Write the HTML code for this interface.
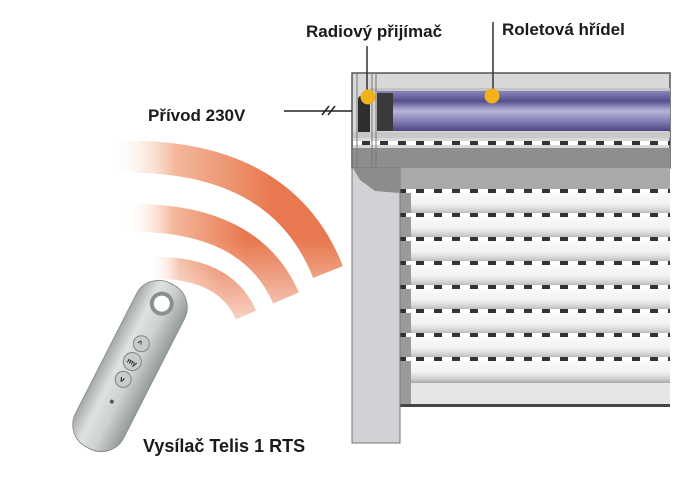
<!DOCTYPE html>
<html><head><meta charset="utf-8"><style>
html,body{margin:0;padding:0;background:#fff}
svg{display:block}
text{font-family:"Liberation Sans",sans-serif;font-weight:bold;fill:#1a1a1a}
</style></head><body>
<svg width="700" height="484" viewBox="0 0 700 484" xmlns="http://www.w3.org/2000/svg">
<defs>
<linearGradient id="wave" x1="0" y1="0" x2="1" y2="0">
<stop offset="0" stop-color="#fff" stop-opacity="0"/>
<stop offset="0.3" stop-color="#f4b89c"/>
<stop offset="0.75" stop-color="#e8784f"/>
<stop offset="1" stop-color="#e8784f"/>
</linearGradient>
<linearGradient id="mg" gradientUnits="userSpaceOnUse" x1="0" y1="130" x2="0" y2="330">
<stop offset="0" stop-color="#fff"/>
<stop offset="0.55" stop-color="#fff"/>
<stop offset="1" stop-color="#fff" stop-opacity="0.25"/>
</linearGradient>
<mask id="wm"><rect x="0" y="100" width="400" height="250" fill="url(#mg)"/></mask>
<linearGradient id="tube" x1="0" y1="0" x2="0" y2="1">
<stop offset="0" stop-color="#8a86b8"/>
<stop offset="0.25" stop-color="#55508e"/>
<stop offset="0.5" stop-color="#b8b4d8"/>
<stop offset="0.8" stop-color="#7a75ad"/>
<stop offset="1" stop-color="#4a4580"/>
</linearGradient>
<linearGradient id="slat" x1="0" y1="0" x2="0" y2="1">
<stop offset="0" stop-color="#fafafa"/>
<stop offset="0.5" stop-color="#f2f2f2"/>
<stop offset="0.8" stop-color="#d0d0d0"/>
<stop offset="1" stop-color="#a8a8a8"/>
</linearGradient>
<linearGradient id="remote" x1="0" y1="0" x2="1" y2="0">
<stop offset="0" stop-color="#a4aaa8"/>
<stop offset="0.3" stop-color="#dfe2e1"/>
<stop offset="0.6" stop-color="#cdd1cf"/>
<stop offset="1" stop-color="#959b99"/>
</linearGradient>
<pattern id="dash" width="18" height="4" patternUnits="userSpaceOnUse">
<rect width="18" height="4" fill="#fff"/><rect x="2" y="0" width="8" height="4" fill="#333"/>
</pattern>
</defs>

<!-- waves -->
<g fill="none" stroke="url(#wave)" mask="url(#wm)">
<path d="M110 157 Q280 150 328 272" stroke-width="32"/>
<path d="M125 218 Q250 215 286 298" stroke-width="28"/>
<path d="M150 268 Q225 266 246 315" stroke-width="22"/>
</g>

<!-- housing -->
<rect x="352" y="73" width="318" height="95" fill="#d8d8d8" stroke="#555" stroke-width="1.5"/>
<rect x="370" y="88" width="300" height="4" fill="#c4c4c4"/>
<rect x="377" y="91" width="293" height="40" fill="url(#tube)"/>
<rect x="377" y="93" width="16" height="38" fill="#3a3a3a"/>
<rect x="358" y="96" width="12" height="42" fill="#2e2e2e" rx="3"/>
<rect x="353" y="132" width="317" height="6" fill="#c8c8c8"/>
<rect x="353" y="141" width="317" height="4" fill="url(#dash)"/>
<rect x="353" y="148" width="317" height="20" fill="#8e8e8e"/>
<line x1="357" y1="74" x2="357" y2="168" stroke="#777"/>
<line x1="372" y1="74" x2="372" y2="168" stroke="#777"/>
<line x1="376" y1="74" x2="376" y2="168" stroke="#777"/>

<!-- shutter -->
<rect x="400" y="168" width="270" height="238" fill="#e8e8e8"/>
<rect x="400" y="168" width="270" height="23" fill="#a9a9a9"/>
<g>
<rect x="410" y="193" width="260" height="22" fill="url(#slat)"/>
<rect x="410" y="217" width="260" height="22" fill="url(#slat)"/>
<rect x="410" y="241" width="260" height="22" fill="url(#slat)"/>
<rect x="410" y="265" width="260" height="22" fill="url(#slat)"/>
<rect x="410" y="289" width="260" height="22" fill="url(#slat)"/>
<rect x="410" y="313" width="260" height="22" fill="url(#slat)"/>
<rect x="410" y="337" width="260" height="22" fill="url(#slat)"/>
<rect x="410" y="361" width="260" height="22" fill="url(#slat)"/>
</g>
<rect x="410" y="384" width="260" height="20" fill="#e6e6e6"/>
<rect x="400" y="191" width="11" height="214" fill="#9a9a9a"/>
<g fill="url(#dash)">
<rect x="400" y="189" width="270" height="4"/>
<rect x="400" y="213" width="270" height="4"/>
<rect x="400" y="237" width="270" height="4"/>
<rect x="400" y="261" width="270" height="4"/>
<rect x="400" y="285" width="270" height="4"/>
<rect x="400" y="309" width="270" height="4"/>
<rect x="400" y="333" width="270" height="4"/>
<rect x="400" y="357" width="270" height="4"/>
</g>
<rect x="400" y="404" width="270" height="3" fill="#444"/>

<!-- rail -->
<rect x="352" y="168" width="48" height="275" fill="#d2d2d6" stroke="#777" stroke-width="1"/>
<path d="M353 168 L400 168 L400 193 L375 191 L360 180 Z" fill="#8c8c8c"/>

<!-- callouts -->
<line x1="367" y1="46" x2="367" y2="97" stroke="#333" stroke-width="1.5"/>
<line x1="493" y1="22" x2="493" y2="96" stroke="#333" stroke-width="1.5"/>
<circle cx="368" cy="97" r="7.5" fill="#f2b21c"/>
<circle cx="492" cy="96" r="7.5" fill="#f2b21c"/>
<line x1="284" y1="111" x2="352" y2="111" stroke="#222" stroke-width="1.5"/>
<line x1="322" y1="115" x2="329" y2="106" stroke="#222" stroke-width="1.5"/>
<line x1="328" y1="115" x2="335" y2="106" stroke="#222" stroke-width="1.5"/>

<text x="306" y="37" font-size="17">Radiový přijímač</text>
<text x="502" y="35" font-size="17">Roletová hřídel</text>
<text x="148" y="121" font-size="17">Přívod 230V</text>

<!-- remote -->
<g transform="translate(130,366) rotate(27)">
<rect x="-27" y="-92" width="54" height="184" rx="25" fill="url(#remote)" stroke="#8a908e"/>
<circle cx="0" cy="-70" r="10" fill="#fff" stroke="#8a908e" stroke-width="4"/>
<circle cx="0" cy="-25" r="8" fill="#c8ccca" stroke="#7f8583"/>
<circle cx="0" cy="-5" r="9" fill="#c8ccca" stroke="#7f8583"/>
<circle cx="0" cy="15" r="8" fill="#c8ccca" stroke="#7f8583"/>
<text x="-4" y="-22" font-size="8" fill="#666">^</text>
<text x="-5" y="-2" font-size="7" fill="#666">my</text>
<text x="-3" y="18" font-size="8" fill="#666">v</text>
<circle cx="0" cy="40" r="2" fill="#555"/>
</g>
<text x="143" y="452" font-size="18">Vysílač Telis 1 RTS</text>
</svg>
</body></html>
